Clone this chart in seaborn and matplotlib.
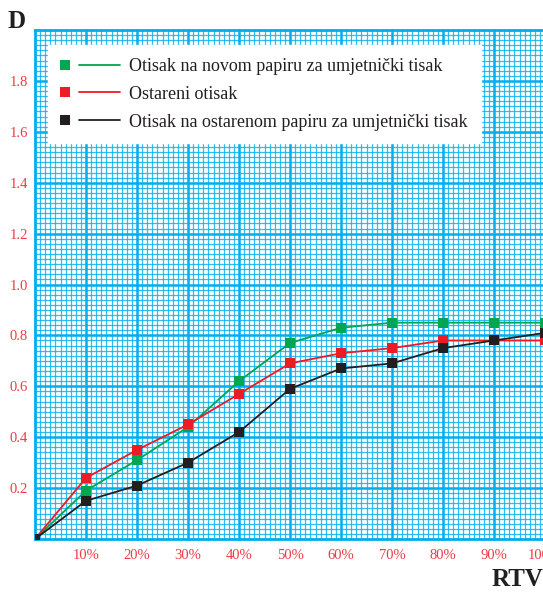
import matplotlib
matplotlib.use('Agg')
import matplotlib.pyplot as plt
from matplotlib.lines import Line2D
from matplotlib.legend_handler import HandlerBase
from matplotlib.ticker import MultipleLocator
import pandas as pd
import seaborn as sns

# RTV (%) i gustoca D za tri otiska
rtv = [0, 10, 20, 30, 40, 50, 60, 70, 80, 90, 100]
novi_papir = [0.0, 0.19, 0.31, 0.44, 0.62, 0.77, 0.83, 0.85, 0.85, 0.85, 0.85]
ostareni = [0.0, 0.24, 0.35, 0.45, 0.57, 0.69, 0.73, 0.75, 0.78, 0.78, 0.78]
ostareni_papir = [0.0, 0.15, 0.21, 0.30, 0.42, 0.59, 0.67, 0.69, 0.75, 0.78, 0.81]
nazivi = ['Otisak na novom papiru za umjetnički tisak',
          'Ostareni otisak',
          'Otisak na ostarenom papiru za umjetnički tisak']
boje = ['#00A651', '#ED1C24', '#231F20']
x_oznake = [10, 20, 30, 40, 50, 60, 70, 80, 90, 100]
y_oznake = [0.2, 0.4, 0.6, 0.8, 1.0, 1.2, 1.4, 1.6, 1.8]

plava = '#00AEEF'
crvena_oznaka = '#EE3A43'

df = pd.DataFrame({
    'rtv': rtv * 3,
    'D': novi_papir + ostareni + ostareni_papir,
    'serija': [nazivi[0]] * len(rtv) + [nazivi[1]] * len(rtv) + [nazivi[2]] * len(rtv),
})

sns.set_style('white')
plt.rcParams['font.family'] = ['Liberation Serif', 'DejaVu Serif']


class ZnakPaCrta(HandlerBase):
    """kvadratic pa crta u legendi"""
    def create_artists(self, legend, orig_handle, xdescent, ydescent,
                       width, height, fontsize, trans):
        boja = orig_handle.get_color()
        y = height / 2 - ydescent
        x0 = -xdescent
        znak = Line2D([x0 + 0.07 * width], [y], ls='none', marker='s',
                      markersize=7, color=boja, markeredgewidth=0, transform=trans)
        crta = Line2D([x0 + 0.3 * width, x0 + width], [y, y], color=boja,
                      lw=1.3, transform=trans)
        return [znak, crta]


fig = plt.figure(figsize=(5.43, 5.92), dpi=100)
ax = fig.add_axes([35 / 543, 53 / 592, 510 / 543, 509 / 592])

sns.lineplot(data=df, x='rtv', y='D', hue='serija', palette=boje,
             hue_order=nazivi, marker='s', markersize=6.5, markeredgewidth=0,
             linewidth=1.3, legend=False, ax=ax, zorder=3)

ax.set_xlim(0, 100)
ax.set_ylim(0, 2.0)

ax.set_xticks(x_oznake)
ax.set_xticklabels([f'{v}%' for v in x_oznake])
ax.set_yticks(y_oznake)
ax.set_yticklabels([f'{v:.1f}' for v in y_oznake])
ax.xaxis.set_minor_locator(MultipleLocator(1))
ax.yaxis.set_minor_locator(MultipleLocator(0.02))
ax.tick_params(which='both', length=0, labelsize=10.5, labelcolor=crvena_oznaka)
ax.tick_params(axis='x', pad=7)
ax.tick_params(axis='y', pad=5)
ax.set_xlabel('')
ax.set_ylabel('')

ax.set_axisbelow(True)
ax.grid(which='minor', color=plava, linewidth=0.9, alpha=0.8)
ax.grid(which='major', color=plava, linewidth=1.8)
for s in ax.spines.values():
    s.set_color(plava)
    s.set_linewidth(2)

rucke = [Line2D([], [], color=b) for b in boje]
leg = ax.legend(rucke, nazivi, loc='upper left', bbox_to_anchor=(0.0255, 0.97),
                borderaxespad=0, fontsize=13, handlelength=3.3, handletextpad=0.5,
                labelspacing=0.6, borderpad=0.7, frameon=True, fancybox=False,
                handler_map={Line2D: ZnakPaCrta()})
leg.get_frame().set_facecolor('white')
leg.get_frame().set_edgecolor('white')
leg.get_frame().set_alpha(1)
for t in leg.get_texts():
    t.set_color('#231F20')

fig.text(8 / 543, 1 - 21 / 592, 'D', fontsize=18, fontweight='bold',
         color='#231F20', va='center', ha='left')
fig.text(1.0, 1 - 580 / 592, 'RTV', fontsize=18, fontweight='bold',
         color='#231F20', va='center', ha='right')

plt.savefig('out.png', dpi=100)
plt.close()
